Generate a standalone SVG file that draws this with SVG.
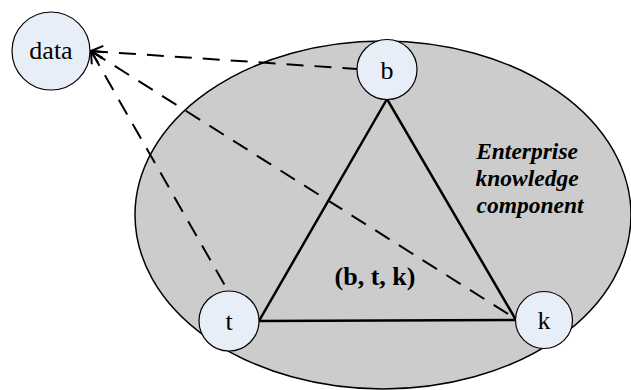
<svg xmlns="http://www.w3.org/2000/svg" width="631" height="390" viewBox="0 0 631 390">
<style>
.node{fill:#e8eef8;stroke:#000;stroke-width:1.2}
.serif{font-family:"Liberation Serif","Times New Roman",serif}
.lbl{font-size:26px;fill:#000;text-anchor:middle}
.dash{fill:none;stroke:#000;stroke-width:2;stroke-dasharray:17 11}
.solid{fill:none;stroke:#000;stroke-width:2.5}
</style>
<defs>
<marker id="arr" viewBox="0 0 14 14" refX="1" refY="7" markerWidth="14" markerHeight="14" markerUnits="userSpaceOnUse" orient="auto">
<path d="M13,1 L1,7 L13,13" fill="none" stroke="#000" stroke-width="2"/>
</marker>
</defs>
<g id="component">
<ellipse cx="383" cy="215" rx="248" ry="174" fill="#cccccc" stroke="#000" stroke-width="1.5"/>
<text class="serif" font-size="23.5" font-weight="bold" font-style="italic" text-anchor="middle">
<tspan x="530" y="159">Enterprise</tspan>
<tspan x="530" y="186">knowledge</tspan>
<tspan x="530" y="213">component</tspan>
</text>
<text class="serif" x="375" y="285" font-size="26" font-weight="bold" text-anchor="middle">(b, t, k)</text>
</g>
<g id="connectors">
<path class="solid" d="M387,99 L259,321 L516,320 Z"/>
<line class="dash" x1="91" y1="51" x2="357" y2="69" marker-start="url(#arr)"/>
<line class="dash" x1="91" y1="51" x2="516" y2="319" marker-start="url(#arr)"/>
<line class="dash" x1="91" y1="51" x2="228" y2="291" marker-start="url(#arr)"/>
</g>
<g id="data">
<circle class="node" cx="51" cy="51" r="39"/>
<text class="serif lbl" x="51" y="59">data</text>
</g>
<g id="b">
<circle class="node" cx="387" cy="69.5" r="30"/>
<text class="serif lbl" x="387" y="79">b</text>
</g>
<g id="t">
<circle class="node" cx="229" cy="321" r="30"/>
<text class="serif lbl" x="229" y="330">t</text>
</g>
<g id="k">
<circle class="node" cx="544" cy="320" r="28.5"/>
<text class="serif lbl" x="544" y="329">k</text>
</g>
</svg>
